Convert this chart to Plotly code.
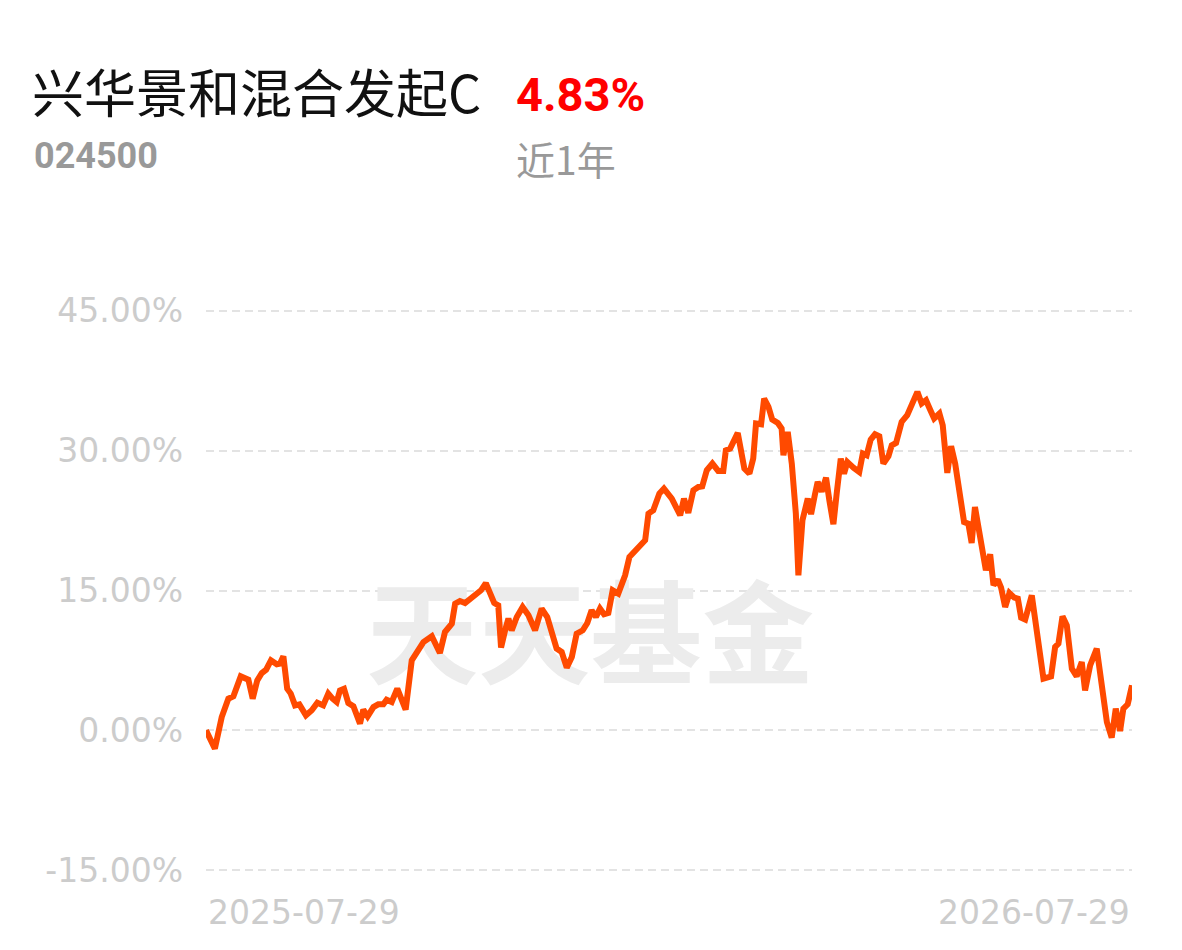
import plotly.graph_objects as go

# ---------------- data ----------------
fund_name = "兴华景和混合发起C"
fund_code = "024500"
period_return = "4.83%"
period_label = "近1年"
start_label = "2025-07-29"
end_label = "2026-07-29"
watermark = "天天基金"

# day offset from start date, cumulative return (%)
days = [0, 3.5, 6.2, 8.8, 10.8, 13.7, 16.7, 18.4, 20.2, 22.0, 23.7, 25.6, 27.9, 29.2, 30.5, 32.0,
        33.4, 35.1, 36.8, 39.4, 41.7, 43.9, 46.2, 48.2, 49.9, 51.5, 52.8, 54.4, 56.1, 58.1,
        60.7, 62.0, 63.7, 66.0, 67.9, 69.9, 71.2, 73.2, 75.4, 77.1, 78.7, 81.1, 83.1, 85.7, 89.0,
        92.2, 94.2, 96.9, 98.2, 100.1, 102.1, 104.1, 106.3, 108.4, 110.3, 112.0, 113.6, 115.2,
        116.3, 117.9, 119.2,
        120.5, 122.5, 124.8, 127.1, 129.7, 132.3, 134.5, 136.7, 138.2, 140.2, 142.2, 144.2, 146.1,
        148.5, 150.3, 152.0, 153.7, 155.3, 156.9, 158.6, 160.3, 162.5, 165.2, 166.9, 169.1, 171.4,
        173.1, 174.4, 176.3, 178.7, 180.5,
        183.6, 186.9, 188.4, 190.1, 192.1, 194.1, 195.6, 197.4, 199.6, 201.9, 203.9, 204.9, 206.6,
        209.6, 212.2, 214.2, 215.7, 216.8, 218.8, 220.0, 221.7, 223.2, 225.4, 226.9, 227.6, 229.3,
        230.9, 232.5, 233.5, 235.1, 237.2, 238.5, 240.1, 241.1,
        242.7, 244.4, 245.7, 247.3, 248.6, 250.2, 251.5, 252.8, 255.2, 257.5, 258.9, 260.4, 262.0,
        263.7, 265.4, 267.0, 269.0, 270.3, 272.0, 274.2, 276.4, 278.6, 280.4, 282.1, 283.8, 285.4,
        287.0, 289.1, 290.4, 292.2, 293.7, 295.3, 297.2, 298.8, 300.5, 301.8, 303.1,
        305.5, 307.4, 309.1, 310.4, 312.1, 313.4, 315.0, 316.7, 318.6, 320.0, 321.3, 322.9, 325.5,
        327.5, 330.1, 333.1, 334.7, 336.0, 337.6, 339.3, 341.3, 343.2, 345.2, 346.5, 348.5, 351.1,
        353.7, 355.1, 357.0, 358.6, 360.3, 361.6, 363.3, 365]

returns = [0.0, -1.97, 1.43, 3.40, 3.65, 5.79, 5.44, 3.40, 5.36, 6.15, 6.51, 7.51, 7.08, 7.16, 7.94, 4.47,
           3.94, 2.68, 2.79, 1.61, 2.15, 2.97, 2.68, 3.94, 3.40, 3.04, 4.29, 4.47, 2.93, 2.58,
           0.72, 2.22, 1.50, 2.50, 2.79, 2.79, 3.29, 3.04, 4.47, 3.22, 2.22, 7.51, 8.40, 9.47, 10.09,
           8.29, 10.55, 11.45, 13.59, 13.87, 13.66, 14.13, 14.48, 15.02, 15.80, 14.84, 13.66, 13.41,
           8.87, 10.73, 11.98,
           10.73, 12.16, 13.23, 12.34, 10.73, 13.06, 12.16, 10.37, 8.77, 8.40, 6.73, 7.87, 10.37,
           10.73, 11.51, 12.88, 12.16, 13.06, 12.45, 12.59, 15.02, 14.67, 16.63, 18.60, 19.24, 19.96,
           20.39, 23.25, 23.61, 25.40, 25.93,
           24.86, 23.07, 24.86, 23.32, 25.75, 26.11, 26.18, 27.90, 28.61, 27.82, 27.82, 30.04, 30.22,
           31.90, 28.08, 27.54, 29.15, 32.91, 32.83, 35.59, 34.69, 33.34, 32.97, 32.37, 29.51, 32.01,
           28.61, 23.25, 16.63, 22.53, 24.86, 23.18, 25.40, 26.64,
           25.60, 27.11, 24.68, 22.10, 25.40, 29.15, 27.54, 28.79, 28.18, 27.72, 29.69, 29.51, 31.19,
           31.76, 31.55, 28.61, 29.40, 30.58, 30.83, 33.08, 33.80, 35.23, 36.30, 35.06, 35.41, 34.41,
           33.45, 33.98, 32.73, 27.61, 30.47, 28.61, 25.03, 22.35, 22.17, 20.10, 23.96,
           20.03, 17.17, 18.88, 15.56, 16.17, 15.31, 13.23, 14.73, 14.24, 14.13, 12.09, 11.88, 14.48,
           10.37, 5.55, 5.79, 8.94, 9.30, 12.23, 11.27, 6.62, 5.79, 7.33, 4.29, 6.97, 8.77,
           2.86, 0.89, -0.78, 2.33, -0.07, 2.33, 2.79, 4.83]

y_ticks = [-15, 0, 15, 30, 45]
y_tick_text = ["-15.00%", "0.00%", "15.00%", "30.00%", "45.00%"]

# ---------------- layout constants (pixels) ----------------
W, H = 1182, 950
OFF = 8  # page body margin
L, R, T, B = 198, 58, 300, 85
PW, PH = W - L - R, H - T - B
Y_RANGE = [-15.3, 45.3]


def px(xp):
    return (xp - OFF - L) / PW


def py(yp):
    return (H - B - (yp - OFF)) / PH


fig = go.Figure()

# watermark behind the line
fig.add_trace(go.Scatter(
    x=[151.5], y=[8.8], mode="text", text=[watermark],
    textfont=dict(family="Noto Sans CJK SC", size=112, color="#ececec", weight="bold"),
    hoverinfo="skip", showlegend=False, cliponaxis=False,
))

fig.add_trace(go.Scatter(
    x=days, y=returns, mode="lines",
    line=dict(color="#FF4A00", width=6),
    showlegend=False, hoverinfo="skip",
))

fig.update_layout(
    width=W, height=H,
    margin=dict(l=L, r=R, t=T, b=B, pad=0),
    paper_bgcolor="white", plot_bgcolor="white",
    xaxis=dict(range=[0, 365], showgrid=False, zeroline=False, showline=False,
               showticklabels=False, ticks="", fixedrange=True),
    yaxis=dict(range=Y_RANGE, tickvals=y_ticks, ticktext=y_tick_text,
               showgrid=True, gridcolor="#e3e3e3", gridwidth=2, griddash="8px,5px",
               zeroline=False, showline=False, ticks="", ticklabelstandoff=22,
               tickfont=dict(family="DejaVu Sans", size=33, color="#cccccc")),
    font=dict(family="Noto Sans CJK SC"),
)

ann = []
ann.append(dict(text=fund_name, x=px(30), y=py(91), xanchor="left", yanchor="middle",
                font=dict(family="Noto Sans CJK SC", size=52, color="#111111")))
ann.append(dict(text="<b>" + period_return + "</b>", x=px(514), y=py(94), xanchor="left", yanchor="middle",
                font=dict(family="Roboto", size=47, color="#ff0000")))
ann.append(dict(text="<b>" + fund_code + "</b>", x=px(32), y=py(156), xanchor="left", yanchor="middle",
                font=dict(family="Roboto", size=36, color="#999999")))
ann.append(dict(text=period_label, x=px(514), y=py(158), xanchor="left", yanchor="middle",
                font=dict(family="Noto Sans CJK SC", size=39, color="#999999")))
ann.append(dict(text=start_label, x=0, y=py(912), xref="x", xanchor="left", yanchor="middle",
                font=dict(family="DejaVu Sans", size=33, color="#cccccc")))
ann.append(dict(text=end_label, x=365, y=py(912), xref="x", xanchor="right", yanchor="middle",
                font=dict(family="DejaVu Sans", size=33, color="#cccccc")))

for a in ann:
    a.setdefault("xref", "paper")
    a["yref"] = "paper"
    a["showarrow"] = False
fig.update_layout(annotations=ann)

fig.write_html("out.html")
